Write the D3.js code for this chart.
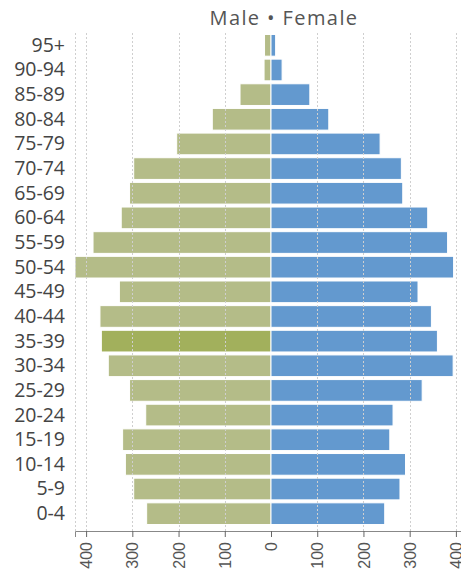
<!DOCTYPE html>
<html>
<head>
<meta charset="utf-8">
<script src="https://cdn.jsdelivr.net/npm/d3@7"></script>
<style>
  body { margin: 0; background: #fff; }
  svg { font-family: "Open Sans", "Noto Sans", sans-serif; }
  .grid line { stroke: #cfcfcf; stroke-dasharray: 2,2; }
</style>
</head>
<body>
<div id="chart"></div>
<script>
///// Data

// age groups, top to bottom
let ageGroups = ["95+", "90-94", "85-89", "80-84", "75-79", "70-74", "65-69", "60-64",
    "55-59", "50-54", "45-49", "40-44", "35-39", "30-34", "25-29", "20-24",
    "15-19", "10-14", "5-9", "0-4"];

let male = [14, 15, 67, 127, 204, 297, 306, 324, 385, 424, 328, 370, 367, 352, 306, 271, 321, 315, 297, 269];
let female = [10, 24, 84, 125, 236, 282, 285, 339, 382, 395, 318, 347, 360, 394, 327, 264, 257, 291, 279, 246];
let highlighted = "35-39";
let tickValues = [-400, -300, -200, -100, 0, 100, 200, 300, 400];

///// Layout

let width = 461, height = 579;
let margin = { top: 33, right: -6, bottom: 48, left: 75 };
let axisY = height - margin.bottom;

let svg = d3.select("#chart")
    .append("svg")
    .attr("width", width)
    .attr("height", height);

let maxV = d3.max(male.concat(female));

// Set the ranges
let x = d3.scaleLinear()
    .domain([-maxV, maxV])
    .range([margin.left, width - margin.right]);

let y = d3.scaleBand()
    .domain(ageGroups)
    .range([margin.top, axisY - 5])
    .paddingInner(0.12)
    .paddingOuter(0.06);

// Male bars
svg.append("g")
    .selectAll("rect")
    .data(ageGroups)
    .enter().append("rect")
    .attr("x", function(d, i) { return x(-male[i]); })
    .attr("y", function(d) { return y(d); })
    .attr("width", function(d, i) { return x(0) - x(-male[i]); })
    .attr("height", y.bandwidth())
    .attr("fill", function(d) { return d === highlighted ? "#a2b05c" : "#b4bc88"; })
    .attr("stroke", "#fff")
    .attr("stroke-width", 1);

// Female bars
svg.append("g")
    .selectAll("rect")
    .data(ageGroups)
    .enter().append("rect")
    .attr("x", x(0))
    .attr("y", function(d) { return y(d); })
    .attr("width", function(d, i) { return x(female[i]) - x(0); })
    .attr("height", y.bandwidth())
    .attr("fill", "#6399cf")
    .attr("stroke", "#fff")
    .attr("stroke-width", 1);

// Grid lines (drawn over the bars)
let grid = svg.append("g").attr("class", "grid");
grid.selectAll("line")
    .data([-maxV].concat(tickValues.filter(function(t) { return t !== 0; })))
    .enter().append("line")
    .attr("x1", function(d) { return Math.round(x(d)) + 0.5; })
    .attr("x2", function(d) { return Math.round(x(d)) + 0.5; })
    .attr("y1", margin.top)
    .attr("y2", axisY);

// X axis
let xAxis = svg.append("g")
    .attr("transform", "translate(0," + axisY + ")")
    .call(d3.axisBottom(x)
        .tickValues(tickValues)
        .tickFormat(function(d) { return Math.abs(d); })
        .tickSizeOuter(0)
        .tickSize(6));

xAxis.select(".domain").attr("stroke", "#888");
xAxis.selectAll(".tick line").attr("stroke", "#666");
xAxis.selectAll("text")
    .attr("transform", "rotate(-90)")
    .attr("text-anchor", "end")
    .attr("x", -11)
    .attr("y", 0)
    .attr("dy", "0.35em")
    .attr("fill", "#555")
    .style("font-size", "16px");

// Y labels
svg.append("g")
    .selectAll("text")
    .data(ageGroups)
    .enter().append("text")
    .attr("x", 65)
    .attr("y", function(d) { return y(d) + y.bandwidth() / 2; })
    .attr("dy", "0.33em")
    .attr("text-anchor", "end")
    .attr("fill", "#444")
    .style("font-size", "19.5px")
    .text(function(d) { return d; });

// Title
svg.append("text")
    .attr("x", 284)
    .attr("y", 25)
    .attr("text-anchor", "middle")
    .attr("fill", "#555")
    .style("font-size", "20px")
    .style("letter-spacing", "1.4px")
    .text("Male \u2022 Female");
</script>
</body>
</html>
